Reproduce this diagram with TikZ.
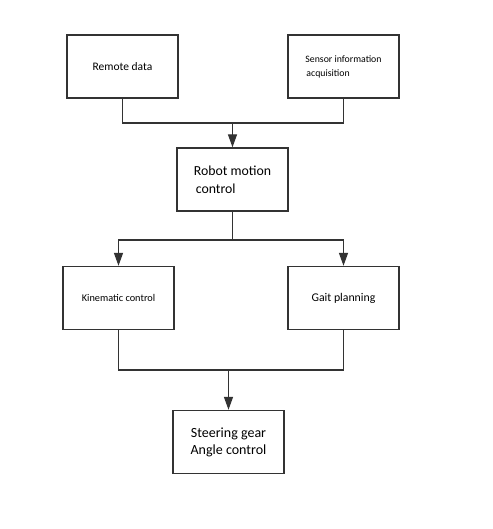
\documentclass[tikz,border=0pt]{standalone}
\usepackage{fontspec}
\setmainfont{Carlito}
\usetikzlibrary{arrows.meta}

\tikzset{
  box/.style={draw=black!80, line width=1.4pt, fill=white, minimum width=111pt, minimum height=63pt, inner sep=0pt},
  link/.style={draw=black!80, line width=1.4pt},
  arrowlink/.style={link, -{Triangle[length=13pt,width=9pt]}}
}

\begin{document}
\begin{tikzpicture}[x=1pt,y=-1pt]
		%%%%% START %%%%%
		\useasboundingbox[fill=white] (0,0) rectangle (492,529);

		\node[box, font=\fontsize{11.5}{13}\selectfont] (remote) at (122.5, 66.5) {Remote data};
		\node[box, font=\fontsize{9.8}{14}\selectfont, align=left] (sensor) at (343.5, 66.5) {Sensor information\\\hspace{1pt}acquisition};
		\node[box, font=\fontsize{13.8}{18}\selectfont, align=left] (robot) at (232.5, 179.5) {Robot motion\\\hspace{2pt}control};

		\node[box, font=\fontsize{10.3}{12}\selectfont] (kin) at (118.5, 298) {Kinematic control};
		\node[box, font=\fontsize{11.8}{14}\selectfont] (gait) at (343.5, 298) {Gait planning};

		\node[box, font=\fontsize{14}{17}\selectfont, align=center] (steer) at (228.5, 442) {Steering gear\\Angle control};

		% top merge
		\coordinate (join) at (232.5, 123);
		\draw[link] (remote.south) |- (join) -| (sensor.south);
		\draw[arrowlink] (join) -- (robot.north);

		% split
		\coordinate (split) at (232.5, 240);
		\draw[link] (robot.south) -- (split);
		\draw[arrowlink] (split) -| (kin.north);
		\draw[arrowlink] (split) -| (gait.north);

		% bottom merge
		\coordinate (merge) at (228.5, 370);
		\draw[link] (kin.south) |- (merge) -| (gait.south);
		\draw[arrowlink] (merge) -- (steer.north);

		%%%%% END %%%%%
\end{tikzpicture}
\end{document}
